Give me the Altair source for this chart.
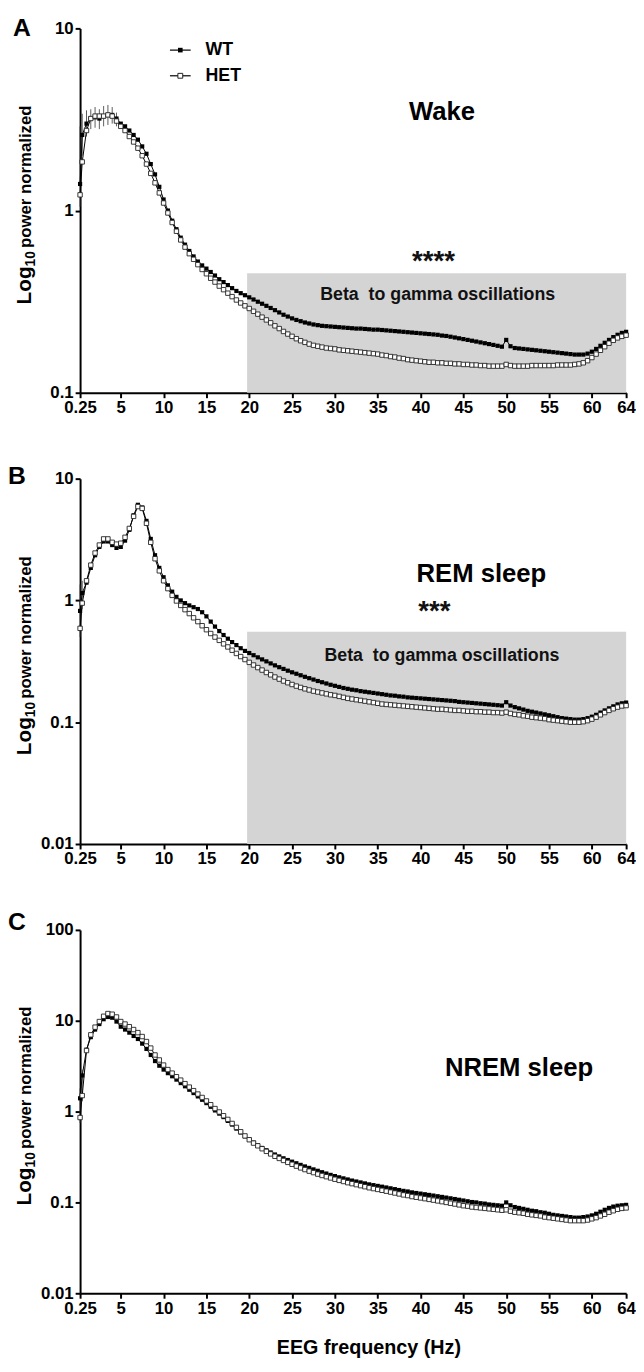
import altair as alt
import pandas as pd

FONT = "Liberation Sans, Arial, sans-serif"
GRAY = "#d4d4d4"

# frequency bins (Hz)
FREQ = [0.25] + [0.5 * i for i in range(1, 129)]
XTICKS = [0.25, 5, 10, 15, 20, 25, 30, 35, 40, 45, 50, 55, 60, 64]

# ---- Wake ----
WAKE_WT = [1.40, 2.60, 3.00, 3.20, 3.25, 3.20, 3.30, 3.35, 3.35, 3.20,
           3.00, 2.90, 2.75, 2.60, 2.45, 2.25, 2.05, 1.80, 1.58, 1.35,
           1.15, 1.00, 0.88, 0.79, 0.71, 0.65, 0.60, 0.56, 0.525, 0.50,
           0.48, 0.46, 0.44, 0.42, 0.405, 0.39, 0.375, 0.362, 0.352, 0.343,
           0.334, 0.325, 0.316, 0.308, 0.300, 0.292, 0.284, 0.276, 0.268, 0.262,
           0.256, 0.251, 0.247, 0.243, 0.240, 0.237, 0.235, 0.233, 0.232, 0.231,
           0.230, 0.229, 0.228, 0.227, 0.226, 0.225, 0.225, 0.224, 0.223, 0.222,
           0.222, 0.221, 0.220, 0.219, 0.218, 0.217, 0.216, 0.215, 0.214, 0.213,
           0.212, 0.211, 0.210, 0.209, 0.208, 0.206, 0.205, 0.203, 0.201, 0.199,
           0.197, 0.195, 0.193, 0.191, 0.189, 0.187, 0.185, 0.183, 0.181, 0.179,
           0.195, 0.180, 0.176, 0.175, 0.174, 0.173, 0.172, 0.171, 0.170, 0.169,
           0.168, 0.167, 0.166, 0.165, 0.164, 0.163, 0.162, 0.162, 0.162, 0.164,
           0.168, 0.174, 0.181, 0.188, 0.195, 0.202, 0.208, 0.213, 0.216]
WAKE_HET = [1.22, 1.85, 2.75, 3.20, 3.30, 3.30, 3.30, 3.35, 3.30, 3.10,
            2.90, 2.75, 2.55, 2.38, 2.20, 2.00, 1.80, 1.60, 1.42, 1.25,
            1.10, 0.97, 0.86, 0.77, 0.69, 0.63, 0.58, 0.54, 0.505, 0.475,
            0.45, 0.425, 0.405, 0.385, 0.368, 0.352, 0.337, 0.323, 0.311, 0.300,
            0.290, 0.280, 0.270, 0.260, 0.251, 0.242, 0.233, 0.225, 0.217, 0.210,
            0.204, 0.198, 0.193, 0.189, 0.185, 0.182, 0.180, 0.178, 0.176, 0.175,
            0.174, 0.172, 0.171, 0.170, 0.169, 0.168, 0.167, 0.166, 0.165, 0.164,
            0.163, 0.161, 0.160, 0.158, 0.157, 0.155, 0.154, 0.152, 0.151, 0.150,
            0.149, 0.148, 0.147, 0.147, 0.146, 0.146, 0.145, 0.145, 0.144, 0.144,
            0.143, 0.143, 0.142, 0.142, 0.141, 0.141, 0.140, 0.140, 0.140, 0.140,
            0.143, 0.141, 0.140, 0.140, 0.140, 0.140, 0.141, 0.141, 0.141, 0.141,
            0.141, 0.141, 0.142, 0.142, 0.142, 0.142, 0.143, 0.144, 0.146, 0.150,
            0.156, 0.163, 0.171, 0.179, 0.187, 0.194, 0.200, 0.204, 0.207]
# visible error bars (low frequencies, Wake)
WAKE_ERR_FREQ = [0.25, 0.5, 1.0, 1.5, 2.0, 2.5, 3.0, 3.5, 4.0, 4.5]
WAKE_ERR_LO = [1.05, 2.00, 2.55, 2.80, 2.85, 2.80, 2.90, 2.95, 3.00, 2.90]
WAKE_ERR_HI = [2.90, 3.40, 3.55, 3.60, 3.70, 3.60, 3.75, 3.80, 3.70, 3.45]

# ---- REM sleep ----
REM_WT = [0.82, 1.15, 1.40, 1.85, 2.35, 2.75, 3.05, 3.05, 2.85, 2.70,
          2.75, 3.10, 3.80, 5.00, 6.10, 5.80, 4.50, 3.20, 2.35, 1.85,
          1.55, 1.33, 1.18, 1.07, 1.00, 0.95, 0.91, 0.88, 0.85, 0.80,
          0.74, 0.67, 0.61, 0.56, 0.52, 0.485, 0.455, 0.43, 0.405, 0.385,
          0.370, 0.355, 0.341, 0.328, 0.316, 0.304, 0.293, 0.283, 0.274, 0.265,
          0.257, 0.250, 0.243, 0.236, 0.230, 0.224, 0.218, 0.213, 0.208, 0.203,
          0.199, 0.195, 0.191, 0.188, 0.185, 0.183, 0.180, 0.178, 0.176, 0.174,
          0.172, 0.170, 0.168, 0.166, 0.165, 0.163, 0.162, 0.160, 0.159, 0.158,
          0.157, 0.156, 0.155, 0.154, 0.153, 0.152, 0.151, 0.150, 0.149, 0.147,
          0.146, 0.145, 0.144, 0.143, 0.142, 0.141, 0.140, 0.139, 0.138, 0.137,
          0.146, 0.137, 0.133, 0.130, 0.127, 0.124, 0.122, 0.120, 0.118, 0.116,
          0.114, 0.112, 0.110, 0.108, 0.107, 0.106, 0.105, 0.105, 0.106, 0.108,
          0.111, 0.115, 0.120, 0.125, 0.130, 0.135, 0.140, 0.143, 0.145]
REM_HET = [0.59, 0.95, 1.45, 1.95, 2.45, 2.85, 3.20, 3.20, 3.00, 2.90,
           2.95, 3.30, 3.90, 4.90, 5.90, 5.70, 4.30, 3.00, 2.20, 1.75,
           1.45, 1.25, 1.10, 0.99, 0.91, 0.84, 0.78, 0.72, 0.67, 0.62,
           0.575, 0.535, 0.50, 0.47, 0.44, 0.415, 0.39, 0.367, 0.346, 0.327,
           0.310, 0.295, 0.281, 0.268, 0.256, 0.245, 0.235, 0.226, 0.218, 0.211,
           0.204, 0.198, 0.193, 0.188, 0.184, 0.180, 0.177, 0.174, 0.171, 0.168,
           0.166, 0.163, 0.160, 0.157, 0.155, 0.153, 0.151, 0.149, 0.147, 0.145,
           0.143, 0.141, 0.140, 0.139, 0.138, 0.137, 0.136, 0.135, 0.134, 0.133,
           0.132, 0.131, 0.130, 0.129, 0.128, 0.128, 0.127, 0.126, 0.125, 0.125,
           0.124, 0.123, 0.123, 0.122, 0.122, 0.121, 0.121, 0.120, 0.120, 0.119,
           0.121, 0.118, 0.116, 0.115, 0.113, 0.112, 0.110, 0.109, 0.108, 0.107,
           0.105, 0.104, 0.103, 0.102, 0.101, 0.100, 0.100, 0.100, 0.101, 0.103,
           0.106, 0.110, 0.115, 0.120, 0.125, 0.129, 0.133, 0.136, 0.137]
REM_ERR_FREQ = [0.25, 0.5]
REM_ERR_LO = [0.50, 0.85]
REM_ERR_HI = [1.35, 1.45]

# ---- NREM sleep ----
NREM_WT = [1.40, 2.50, 4.80, 6.60, 8.00, 9.20, 10.4, 11.0, 10.8, 9.80,
           8.60, 8.00, 7.40, 6.80, 6.30, 5.60, 4.90, 4.20, 3.60, 3.20,
           2.90, 2.65, 2.45, 2.25, 2.06, 1.90, 1.74, 1.60, 1.47, 1.35,
           1.24, 1.13, 1.03, 0.95, 0.87, 0.79, 0.72, 0.65, 0.59, 0.535,
           0.49, 0.455, 0.425, 0.398, 0.375, 0.355, 0.337, 0.321, 0.306, 0.293,
           0.281, 0.270, 0.259, 0.249, 0.240, 0.231, 0.223, 0.215, 0.208, 0.201,
           0.195, 0.189, 0.184, 0.179, 0.174, 0.170, 0.166, 0.162, 0.158, 0.155,
           0.152, 0.149, 0.146, 0.143, 0.140, 0.137, 0.134, 0.132, 0.129, 0.127,
           0.125, 0.123, 0.121, 0.119, 0.117, 0.115, 0.113, 0.111, 0.109, 0.107,
           0.105, 0.103, 0.101, 0.100, 0.098, 0.097, 0.095, 0.094, 0.093, 0.092,
           0.100, 0.093, 0.089, 0.087, 0.085, 0.083, 0.081, 0.080, 0.078, 0.077,
           0.075, 0.073, 0.072, 0.071, 0.070, 0.069, 0.068, 0.068, 0.069, 0.070,
           0.072, 0.075, 0.079, 0.083, 0.087, 0.090, 0.092, 0.093, 0.094]
NREM_HET = [0.86, 1.50, 4.70, 7.00, 8.50, 9.80, 11.2, 12.0, 11.8, 11.0,
            9.80, 9.20, 8.60, 8.00, 7.40, 6.70, 5.90, 5.00, 4.20, 3.70,
            3.25, 2.90, 2.65, 2.42, 2.22, 2.03, 1.86, 1.70, 1.56, 1.43,
            1.31, 1.19, 1.08, 0.99, 0.90, 0.82, 0.74, 0.67, 0.60, 0.54,
            0.49, 0.45, 0.42, 0.39, 0.365, 0.342, 0.322, 0.305, 0.290, 0.276,
            0.263, 0.251, 0.240, 0.230, 0.221, 0.213, 0.205, 0.198, 0.192, 0.186,
            0.180, 0.175, 0.170, 0.165, 0.161, 0.157, 0.153, 0.149, 0.145, 0.142,
            0.139, 0.136, 0.133, 0.130, 0.127, 0.124, 0.121, 0.119, 0.116, 0.114,
            0.112, 0.110, 0.108, 0.106, 0.104, 0.102, 0.100, 0.098, 0.096, 0.094,
            0.092, 0.091, 0.089, 0.088, 0.087, 0.086, 0.085, 0.084, 0.083, 0.082,
            0.083, 0.080, 0.078, 0.077, 0.076, 0.074, 0.073, 0.072, 0.071, 0.069,
            0.068, 0.067, 0.066, 0.065, 0.064, 0.063, 0.063, 0.063, 0.063, 0.064,
            0.066, 0.068, 0.071, 0.074, 0.078, 0.081, 0.084, 0.086, 0.087]
NREM_ERR_FREQ = [0.25, 0.5]
NREM_ERR_LO = [0.75, 1.30]
NREM_ERR_HI = [1.80, 2.90]

BOX_X = [19.75, 64]
BOX_LABEL = "Beta\u00a0 to gamma oscillations"
GROUPS = ["WT", "HET"]

W = 553


def one():
    return alt.Chart(pd.DataFrame({"k": [0]}))


def panel(wt, het, err, ydomain, yticks, height, letter, letter_xy, state, state_xy,
          box_top=None, box_label_xy=None, stars=None, stars_xy=None,
          legend=False, xtitle=None):
    n = len(FREQ)
    df = pd.DataFrame({"freq": FREQ * 2, "power": wt + het,
                       "genotype": [GROUPS[0]] * n + [GROUPS[1]] * n})
    xaxis = dict(values=XTICKS, format="~g", labelFlush=False, labelOverlap=False)
    if xtitle:
        X = alt.X("freq:Q", scale=alt.Scale(domain=[0.25, 64], nice=False, zero=False),
                  axis=alt.Axis(title=xtitle, titleFontSize=20, titlePadding=22,
                                titleX=292, titleAlign="center", **xaxis))
    else:
        X = alt.X("freq:Q", scale=alt.Scale(domain=[0.25, 64], nice=False, zero=False),
                  axis=alt.Axis(title=None, **xaxis))
    Y = alt.Y("power:Q", scale=alt.Scale(type="log", domain=ydomain, nice=False),
              axis=alt.Axis(values=yticks, format="~g", title=None))

    layers = []
    if box_top is not None:
        box = pd.DataFrame({"freq": [BOX_X[0]], "freq2": [BOX_X[1]],
                            "power": [ydomain[0]], "power2": [box_top]})
        layers.append(alt.Chart(box).mark_rect(color=GRAY).encode(
            x=X, x2="freq2:Q", y=Y, y2="power2:Q"))
        lab = pd.DataFrame({"freq": [box_label_xy[0]], "power": [box_label_xy[1]],
                            "t": [BOX_LABEL]})
        layers.append(alt.Chart(lab).mark_text(font=FONT, fontSize=18, fontWeight="bold",
                                               color="#111").encode(x=X, y=Y, text="t:N"))
        st = pd.DataFrame({"freq": [stars_xy[0]], "power": [stars_xy[1]], "t": [stars]})
        layers.append(alt.Chart(st).mark_text(font=FONT, fontSize=28, fontWeight="bold",
                                              color="#111", baseline="middle").encode(
            x=X, y=Y, text="t:N"))

    ef, elo, ehi = err
    edf = pd.DataFrame({"freq": ef, "power": elo, "power2": ehi})
    layers.append(alt.Chart(edf).mark_rule(color="#333", strokeWidth=0.8).encode(
        x=X, y=Y, y2="power2:Q"))

    layers.append(alt.Chart(df).mark_line(color="black", strokeWidth=1).encode(
        x=X, y=Y, detail="genotype:N"))
    layers.append(alt.Chart(df).transform_filter("datum.genotype == 'WT'").mark_square(
        color="black", size=18, opacity=1).encode(x=X, y=Y))
    layers.append(alt.Chart(df).transform_filter("datum.genotype == 'HET'").mark_square(
        fill="white", stroke="#222", strokeWidth=0.9, size=20, opacity=1).encode(x=X, y=Y))

    sd = pd.DataFrame({"freq": [state_xy[0]], "power": [state_xy[1]], "t": [state]})
    layers.append(alt.Chart(sd).mark_text(font=FONT, fontSize=26, fontWeight="bold",
                                          color="black").encode(x=X, y=Y, text="t:N"))

    # panel letter
    layers.append(one().mark_text(font=FONT, fontSize=25, fontWeight="bold", align="left",
                                  baseline="alphabetic", color="black").encode(
        x=alt.value(letter_xy[0]), y=alt.value(letter_xy[1]), text=alt.value(letter)))

    # y-axis title: Log10 power normalized
    w_log, w_10 = 38.5, 15.6
    L = w_log + w_10 + 3 + 149
    c = height / 2 - 8
    y0 = c + L / 2
    layers.append(one().mark_text(font=FONT, fontSize=21, fontWeight="bold", angle=270,
                                  align="left", baseline="alphabetic", color="black").encode(
        x=alt.value(-50), y=alt.value(y0), text=alt.value("Log")))
    layers.append(one().mark_text(font=FONT, fontSize=14, fontWeight="bold", angle=270,
                                  align="left", baseline="alphabetic", color="black").encode(
        x=alt.value(-46), y=alt.value(y0 - w_log), text=alt.value("10")))
    layers.append(one().mark_text(font=FONT, fontSize=17, fontWeight="bold", angle=270,
                                  align="left", baseline="alphabetic", color="black").encode(
        x=alt.value(-50), y=alt.value(y0 - w_log - w_10 - 3), text=alt.value("power normalized")))

    if legend:
        for i, g in enumerate(GROUPS):
            yy = 22 + 26 * i
            layers.append(one().mark_rule(color="black", strokeWidth=1.2).encode(
                x=alt.value(91), x2=alt.value(112), y=alt.value(yy)))
            if g == "WT":
                layers.append(one().mark_square(color="black", size=22, opacity=1).encode(
                    x=alt.value(101.5), y=alt.value(yy)))
            else:
                layers.append(one().mark_square(fill="white", stroke="#222", strokeWidth=1,
                                                size=24, opacity=1).encode(
                    x=alt.value(101.5), y=alt.value(yy)))
            layers.append(one().mark_text(font=FONT, fontSize=18, fontWeight="bold",
                                          align="left", baseline="middle", color="black").encode(
                x=alt.value(127), y=alt.value(yy), text=alt.value(g)))

    return alt.layer(*layers).properties(width=W, height=height)


pA = panel(WAKE_WT, WAKE_HET, (WAKE_ERR_FREQ, WAKE_ERR_LO, WAKE_ERR_HI),
           [0.1, 10], [0.1, 1, 10], 369, "A", (-68, 8), "Wake", (42.5, 3.46),
           box_top=0.453, box_label_xy=(42.0, 0.344), stars="****", stars_xy=(41.5, 0.52),
           legend=True)
pB = panel(REM_WT, REM_HET, (REM_ERR_FREQ, REM_ERR_LO, REM_ERR_HI),
           [0.01, 10], [0.01, 0.1, 1, 10], 370, "B", (-73, 5), "REM sleep",
           (47.1, 1.63), box_top=0.553, box_label_xy=(42.5, 0.347), stars="***",
           stars_xy=(41.6, 0.80))
pC = panel(NREM_WT, NREM_HET, (NREM_ERR_FREQ, NREM_ERR_LO, NREM_ERR_HI),
           [0.01, 100], [0.01, 0.1, 1, 10, 100], 368, "C", (-73, 0),
           "NREM sleep", (51.5, 3.0), xtitle="EEG frequency (Hz)")

chart = alt.vconcat(pA, pB, pC, spacing=87, bounds="flush").properties(
    padding=0
).configure_view(stroke=None).configure_axis(
    domainColor="black", domainWidth=2, tickColor="black", tickWidth=2, tickSize=5,
    labelFont=FONT, labelFontSize=17, labelFontWeight="bold", labelColor="black",
    labelPadding=2, grid=False, titleFont=FONT, titleFontWeight="bold", titleColor="black"
)

chart.save("out.html", embed_options={"renderer": "svg", "actions": False})
